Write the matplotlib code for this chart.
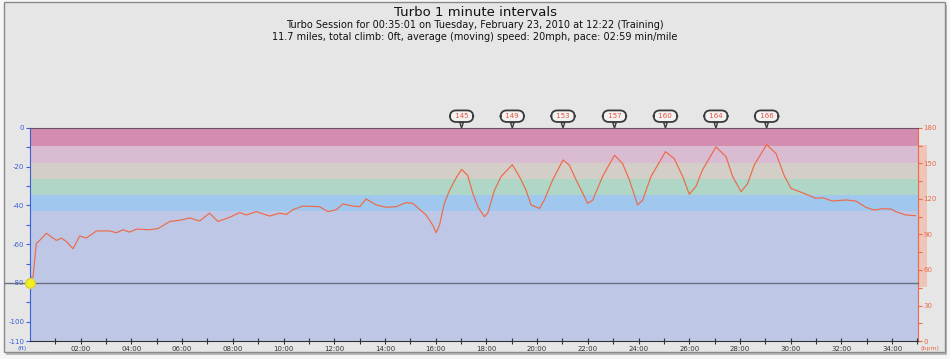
import matplotlib.pyplot as plt
from matplotlib.patches import Rectangle
from matplotlib.transforms import blended_transform_factory

plt.rcParams["axes.unicode_minus"] = False

# heart rate trace (minutes, bpm)
hr_time = [0.0, 0.12, 0.25, 0.38, 0.65, 1.04, 1.24, 1.44, 1.70, 1.96, 2.22, 2.62,
           3.14, 3.41, 3.67, 3.93, 4.20, 4.72, 5.05, 5.51, 5.90, 6.30, 6.69, 7.08,
           7.41, 7.87, 8.27, 8.53, 8.92, 9.45, 9.84, 10.11, 10.37, 10.76, 11.42,
           11.75, 12.08, 12.34, 12.73, 13.00, 13.26, 13.65, 14.05, 14.44, 14.84,
           15.10, 15.36, 15.62, 15.88, 16.02, 16.15, 16.34, 16.54, 16.81, 17.02,
           17.26, 17.46, 17.66, 17.92, 18.05, 18.32, 18.58, 19.02, 19.30, 19.56,
           19.76, 20.09, 20.28, 20.61, 21.02, 21.27, 21.54, 21.80, 21.99, 22.19,
           22.58, 23.05, 23.37, 23.64, 23.96, 24.16, 24.49, 25.06, 25.41, 25.74,
           26.00, 26.26, 26.52, 27.05, 27.45, 27.71, 28.04, 28.30, 28.56, 29.05,
           29.42, 29.74, 30.01, 30.46, 30.99, 31.25, 31.65, 32.18, 32.57, 32.96,
           33.29, 33.62, 33.95, 34.15, 34.54, 34.93]
hr_bpm = [54, 54, 82.5, 85, 91, 85, 87, 84, 78, 88.7, 87, 93,
          93, 91.5, 94, 92, 94.6, 94, 95, 101, 102, 104, 101.4, 108,
          101, 104.5, 108.5, 106.5, 109.3, 105.6, 108, 107, 111, 114, 113.5,
          109.3, 111, 115.8, 114, 113.5, 120, 115, 113, 113.5, 117,
          116.3, 111.3, 106.5, 98, 91.5, 98, 116.3, 127, 138, 145,
          140, 125, 113.5, 105, 108, 127.6, 139, 149, 139, 127.6,
          115, 112, 119, 136, 153, 148.7, 136, 124.8, 116.3, 119,
          139, 157, 150, 136, 115, 119, 139, 160, 154, 139,
          124, 130.5, 144.5, 164, 155.8, 139, 126.2, 133, 148.7, 166,
          158.5, 140, 129, 125.3, 120.6, 121.1, 118.3, 119.2, 118.3, 113,
          110.7, 111.8, 111.5, 109.3, 106.5, 105.9]

# interval peaks labelled above the chart
peak_time = [17.02, 19.02, 21.02, 23.05, 25.06, 27.05, 29.05]
peak_bpm = [145, 149, 153, 157, 160, 164, 166]

# heart rate zones (bpm) and colours, top to bottom
zone_edges = [180, 165, 150, 137, 123, 110, 0]
zone_colors = ["#D48CAF", "#DABCD2", "#D4CEC8", "#B0D6C8", "#A0C8EE", "#BEC8E6"]

altitude_ft = -80
hr_range = [46, 166]
duration = 35.02

x_major = list(range(2, 35, 2))
x_minor = list(range(1, 36, 2))
x_labels = ["%02d:00" % m for m in x_major]
ft_ticks = [0, -20, -40, -60, -80, -100, -110]
ft_minor = [-10, -30, -50, -70, -90]
bpm_ticks = [0, 30, 60, 90, 120, 150, 180]
bpm_minor = [15, 45, 75, 105, 135, 165]

blue = "#3C5FD6"
orange = "#EC6A48"

fig = plt.figure(figsize=(9.5, 3.59), dpi=100, facecolor="#F6F6F6")

# grey panel with a soft shadow
fig.patches.append(Rectangle((6 / 950, 4 / 359), 941 / 950, 350 / 359,
                             transform=fig.transFigure, fc="#B8B8B8", ec="none", zorder=-2))
fig.patches.append(Rectangle((4 / 950, 7 / 359), 941 / 950, 350 / 359,
                             transform=fig.transFigure, fc="#E6E6E6", ec="#8A8A8A", lw=1, zorder=-1))

fig.text(0.5, 1 - 12 / 359, "Turbo 1 minute intervals", ha="center", va="center",
         fontsize=9.5, color="#111111")
fig.text(0.5, 1 - 24.5 / 359,
         "Turbo Session for 00:35:01 on Tuesday, February 23, 2010 at 12:22 (Training)",
         ha="center", va="center", fontsize=7, color="#111111")
fig.text(0.5, 1 - 36.5 / 359,
         "11.7 miles, total climb: 0ft, average (moving) speed: 20mph, pace: 02:59 min/mile",
         ha="center", va="center", fontsize=7, color="#111111")

ax = fig.add_axes([30 / 950, 18 / 359, 888 / 950, 213 / 359])
ax2 = ax.twinx()
ax.set_zorder(ax2.get_zorder() + 1)
ax.patch.set_visible(False)

# zones and heart rate on the bpm axis
for top, bottom, c in zip(zone_edges[:-1], zone_edges[1:], zone_colors):
    ax2.axhspan(bottom, top, color=c, lw=0, zorder=0)
ax2.plot(hr_time, hr_bpm, color=orange, lw=0.85, zorder=3,
         solid_joinstyle="round", solid_capstyle="round")
ax2.set_ylim(0, 180)
ax2.set_xlim(0, duration)

trans = blended_transform_factory(ax2.transAxes, ax2.transData)
ax2.add_patch(Rectangle((1.0, hr_range[0]), 0.01, hr_range[1] - hr_range[0],
                        transform=trans, fc="#F4B8A4", ec="none", alpha=0.7, clip_on=False))

for t, v in zip(peak_time, peak_bpm):
    ax2.annotate(" %d " % v, xy=(t, 180), xytext=(0, 8.5), textcoords="offset points",
                 ha="center", va="center", fontsize=5, color="#E8503A",
                 bbox=dict(boxstyle="round,pad=0.4,rounding_size=0.9", fc="#F2F2F2",
                           ec="#3A3A3A", lw=1.3),
                 arrowprops=dict(arrowstyle="wedge,tail_width=0.5", fc="#F2F2F2",
                                 ec="#3A3A3A", lw=1.0, shrinkA=0, shrinkB=0),
                 annotation_clip=False)

# altitude on the ft axis
ax.axhline(altitude_ft, xmin=-0.028, xmax=1.0, color="#6A6E80", lw=1, clip_on=False)
ax.plot([0], [altitude_ft], "o", ms=7, color="#F0F020", mec="#D8D040", clip_on=False, zorder=5)
ax.set_ylim(-110, 0)
ax.set_xlim(0, duration)

ax.set_xticks(x_major)
ax.set_xticklabels(x_labels)
ax.set_xticks(x_minor, minor=True)
ax.tick_params(axis="x", which="both", direction="inout", length=5, width=0.8,
               labelsize=5, colors="#333333", pad=1)
ax.set_yticks(ft_ticks)
ax.set_yticks(ft_minor, minor=True)
ax.tick_params(axis="y", which="both", length=3, width=0.8, labelsize=5,
               colors=blue, pad=1)
ax2.set_yticks(bpm_ticks)
ax2.set_yticks(bpm_minor, minor=True)
ax2.tick_params(axis="y", which="both", length=3, width=0.8, labelsize=5,
                colors=orange, pad=1)

ax.spines["left"].set_color(blue)
ax.spines["bottom"].set_color("#333333")
ax.spines["top"].set_color("#6A5060")
ax.spines["right"].set_visible(False)
ax2.spines["right"].set_color(orange)
for s in ["left", "top", "bottom"]:
    ax2.spines[s].set_visible(False)

ax.text(-0.004, -0.035, "(ft)", transform=ax.transAxes, ha="right", va="center",
        fontsize=4.5, color=blue)
ax2.text(1.003, -0.035, "(bpm)", transform=ax2.transAxes, ha="left", va="center",
         fontsize=4.5, color=orange)

fig.savefig("out.png", dpi=100, facecolor=fig.get_facecolor())
